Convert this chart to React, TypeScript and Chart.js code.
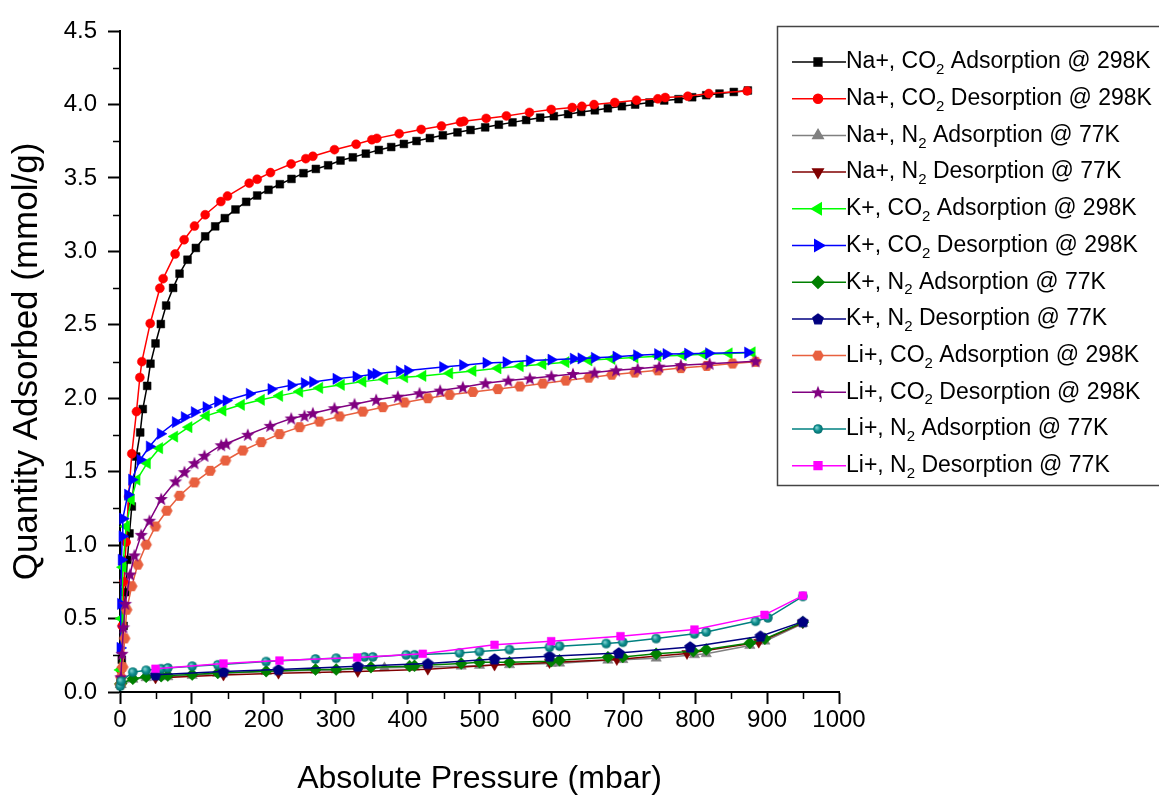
import React, { useEffect, useRef } from 'react';
import { Chart, registerables } from 'chart.js';
import * as helpers from 'chart.js/helpers';

Chart.register(...registerables);

// ---------- data: [pressure (mbar), quantity adsorbed (mmol/g)] ----------
const naCO2Ads = [[0.8,0.07],[2.5,0.22],[5,0.45],[7.5,0.68],[10.2,0.9],[13.2,1.08],[16.4,1.263],[22.5,1.603],[28.1,1.767],[31.7,1.926],[37.8,2.084],[42.4,2.235],[49.4,2.373],[56.8,2.505],[64.2,2.631],[73.9,2.751],[82.8,2.848],[93.9,2.943],[105.5,3.023],[118.5,3.102],[132.4,3.17],[145.8,3.226],[160.6,3.285],[175.5,3.337],[190.8,3.38],[206.5,3.419],[222.3,3.457],[238.5,3.493],[255.2,3.532],[272.4,3.561],[289.5,3.586],[306.7,3.618],[323.8,3.64],[341.9,3.665],[360,3.69],[377.2,3.71],[394.8,3.731],[412.4,3.751],[431,3.771],[449,3.79],[469.4,3.81],[487.5,3.826],[507.9,3.844],[526.9,3.862],[545.9,3.878],[564.9,3.894],[584.4,3.91],[603.4,3.92],[623.3,3.934],[641.4,3.949],[660.4,3.96],[678.5,3.974],[698,3.988],[716.5,3.999],[736.4,4.013],[756.9,4.027],[776.8,4.036],[795.8,4.049],[815.3,4.063],[833.8,4.074],[853.7,4.085],[873.2,4.095]];
const naCO2Des = [[1,0.15],[3,0.45],[5.5,0.75],[8.5,1.02],[12,1.33],[16.4,1.622],[22.9,1.909],[27.6,2.141],[30.4,2.249],[42,2.509],[55.4,2.749],[60,2.814],[76.7,2.982],[89.2,3.079],[103.6,3.172],[118.5,3.249],[140.3,3.339],[149.5,3.376],[179.7,3.464],[190.8,3.491],[209.3,3.536],[238,3.595],[258.4,3.631],[268.2,3.647],[298.3,3.692],[328.4,3.729],[350.3,3.76],[357.2,3.769],[388.3,3.801],[418.9,3.83],[447.1,3.853],[473.6,3.88],[478.2,3.885],[509.3,3.905],[537.4,3.922],[569.5,3.946],[599.7,3.966],[629,3.979],[642.4,3.987],[659.3,3.999],[688.2,4.013],[718.4,4.029],[748,4.038],[758.3,4.047],[789.7,4.056],[818.9,4.074],[872.3,4.092]];
const naN2Ads = [[0.5,0.05],[1.6,0.05],[17.8,0.086],[36.4,0.097],[66.5,0.103],[100.4,0.112],[136,0.126],[203.3,0.139],[271.9,0.148],[300.7,0.15],[367.8,0.165],[409.6,0.169],[474.5,0.176],[500,0.181],[541.7,0.185],[599.7,0.194],[611.3,0.196],[678.6,0.216],[699.3,0.22],[745.7,0.23],[799,0.253],[815.3,0.26],[876,0.316],[896.9,0.346],[949.7,0.466]];
const naN2Des = [[49.4,0.095],[143.9,0.115],[220.4,0.128],[330.7,0.14],[428.1,0.155],[520.9,0.183],[597.4,0.2],[691,0.221],[788.6,0.262],[888.4,0.339],[949.7,0.471]];
const kCO2Ads = [[0.5,0.15],[2,0.5],[4,0.85],[8.6,1.127],[15.6,1.309],[23.4,1.445],[37.8,1.558],[54.9,1.66],[75.8,1.739],[95.7,1.803],[119.9,1.88],[143,1.916],[168.6,1.955],[196.4,1.989],[221.8,2.016],[249.7,2.045],[277.5,2.07],[307.6,2.091],[337.7,2.113],[367.9,2.13],[395.7,2.143],[421.1,2.152],[458.3,2.17],[490.7,2.186],[525.5,2.204],[556.4,2.218],[588,2.232],[620,2.245],[652,2.258],[684,2.268],[716,2.278],[748,2.286],[783,2.293],[812,2.299],[847,2.305],[879,2.312]];
const kCO2Des = [[0.3,0.3],[1,0.6],[2,0.9],[3.1,1.06],[3.9,1.18],[10.8,1.343],[16.4,1.445],[28.1,1.581],[41,1.671],[56.3,1.758],[77.2,1.837],[89.7,1.871],[103.6,1.905],[119.9,1.939],[136,1.975],[147.7,1.984],[180.1,2.03],[210.3,2.062],[238.1,2.089],[256.6,2.102],[268.2,2.111],[300.7,2.132],[328.5,2.147],[349.4,2.161],[356.3,2.166],[388.7,2.184],[400.3,2.188],[449,2.212],[476.8,2.225],[509.3,2.24],[537.1,2.245],[569.5,2.256],[599.7,2.262],[630.7,2.269],[641.4,2.271],[660,2.275],[690.1,2.283],[718.8,2.292],[748,2.3],[759.7,2.301],[789.7,2.303],[818.9,2.306],[873.2,2.311]];
const kN2Ads = [[0.5,0.055],[1.6,0.058],[17.8,0.09],[36.4,0.103],[57.3,0.108],[66.5,0.112],[100.4,0.119],[136,0.13],[203.3,0.142],[271.9,0.153],[300.7,0.153],[349,0.169],[402.7,0.176],[409.6,0.178],[474.5,0.194],[500,0.203],[541.7,0.203],[599.7,0.21],[611.3,0.216],[678.6,0.237],[699.3,0.239],[745.7,0.26],[797.4,0.278],[815.3,0.289],[876,0.334],[896.9,0.362],[949.7,0.475]];
const kN2Des = [[49.4,0.117],[143.9,0.139],[220.4,0.153],[330.7,0.176],[428.1,0.194],[520.9,0.225],[597.4,0.244],[693.7,0.266],[793,0.307],[890.8,0.38],[949.7,0.479]];
const liCO2Ads = [[0.5,0.05],[1.5,0.1],[3.7,0.17],[6.5,0.365],[9.3,0.56],[16.3,0.72],[24.7,0.867],[36.4,1.003],[49.4,1.127],[65.1,1.234],[82.8,1.336],[103.6,1.427],[125.4,1.506],[146.7,1.576],[170.8,1.644],[196.4,1.701],[221.8,1.756],[249.7,1.803],[277.5,1.841],[305.3,1.876],[337.7,1.909],[365.5,1.939],[395.7,1.971],[428.1,2.0],[458.3,2.023],[490.7,2.043],[525.5,2.062],[556,2.08],[588,2.1],[620,2.12],[652,2.14],[684,2.16],[716,2.175],[748,2.19],[780,2.205],[816,2.22],[852,2.236],[884,2.248]];
const liCO2Des = [[1.2,0.1],[2.8,0.26],[4.7,0.44],[7.4,0.6],[14,0.8],[20,0.93],[29.5,1.07],[41,1.166],[57.3,1.314],[77.2,1.434],[89.7,1.497],[103.6,1.558],[117.5,1.608],[140.8,1.68],[147.7,1.69],[177.7,1.751],[208.9,1.812],[238.1,1.862],[256.6,1.88],[268.2,1.898],[298.3,1.932],[326.2,1.959],[356.3,1.989],[386.4,2.011],[416.6,2.034],[445.3,2.052],[476.8,2.075],[508.3,2.102],[540,2.12],[570,2.135],[600,2.15],[630,2.165],[660,2.175],[690,2.19],[720,2.2],[750,2.215],[780,2.225],[820,2.235],[884,2.252]];
const liN2Ads = [[0.3,0.04],[1.6,0.074],[17.8,0.135],[36.4,0.148],[57.3,0.158],[66.5,0.164],[100.4,0.176],[136,0.185],[203.3,0.207],[271.9,0.225],[300.7,0.23],[340,0.239],[351.6,0.239],[398,0.253],[409.6,0.253],[472.2,0.266],[500,0.275],[541.7,0.289],[597.4,0.305],[611.3,0.312],[676.2,0.33],[699.3,0.339],[745.7,0.364],[799,0.396],[815.3,0.409],[883.9,0.482],[901,0.505],[949.7,0.651]];
const liN2Des = [[49.4,0.158],[143.9,0.194],[221.8,0.214],[329.9,0.235],[421.1,0.26],[520.9,0.321],[599.7,0.346],[696.1,0.38],[799,0.425],[896.4,0.525],[949.7,0.656]];

const seriesLabels = [
  'Na+, CO₂ Adsorption @ 298K',
  'Na+, CO₂ Desorption @ 298K',
  'Na+, N₂ Adsorption @ 77K',
  'Na+, N₂ Desorption @ 77K',
  'K+, CO₂ Adsorption @ 298K',
  'K+, CO₂ Desorption @ 298K',
  'K+, N₂ Adsorption @ 77K',
  'K+, N₂ Desorption @ 77K',
  'Li+, CO₂ Adsorption @ 298K',
  'Li+, CO₂ Desorption @ 298K',
  'Li+, N₂ Adsorption @ 77K',
  'Li+, N₂ Desorption @ 77K',
];
const seriesData = [naCO2Ads, naCO2Des, naN2Ads, naN2Des, kCO2Ads, kCO2Des, kN2Ads, kN2Des, liCO2Ads, liCO2Des, liN2Ads, liN2Des];
const seriesColors = ['#000000', '#ff0000', '#808080', '#800000', '#00ff00', '#0000ff', '#008000', '#000080', '#e8603f', '#800080', '#008080', '#ff00ff'];

const xTickStep = 100;
const yTickStep = 0.5;
const xMinorTicks = [50, 150, 250, 350, 450, 550, 650, 750, 850, 950];
const yMinorTicks = [0.25, 0.75, 1.25, 1.75, 2.25, 2.75, 3.25, 3.75, 4.25];

const FONT = "'Liberation Sans', Arial, Helvetica, sans-serif";

function makeCanvas(size: number, draw: (c: CanvasRenderingContext2D, m: number) => void) {
  const cv = document.createElement('canvas');
  cv.width = size;
  cv.height = size;
  const c = cv.getContext('2d')!;
  draw(c, size / 2);
  return cv;
}

function polygon(c: CanvasRenderingContext2D, cx: number, cy: number, n: number, r: number, start: number) {
  c.beginPath();
  for (let i = 0; i < n; i++) {
    const a = start + (i * 2 * Math.PI) / n;
    const px = cx + r * Math.cos(a);
    const py = cy + r * Math.sin(a);
    if (i === 0) c.moveTo(px, py); else c.lineTo(px, py);
  }
  c.closePath();
}

function buildMarkers() {
  const pentagon = makeCanvas(14, (c, m) => {
    polygon(c, m, m + 0.5, 5, 6.2, -Math.PI / 2);
    c.fillStyle = '#000080';
    c.fill();
  });
  const hexagon = makeCanvas(14, (c, m) => {
    polygon(c, m, m, 6, 5.8, 0);
    c.fillStyle = '#e8603f';
    c.fill();
  });
  const star = makeCanvas(16, (c, m) => {
    c.beginPath();
    for (let i = 0; i < 10; i++) {
      const r = i % 2 === 0 ? 7 : 3;
      const a = -Math.PI / 2 + (i * Math.PI) / 5;
      const px = m + r * Math.cos(a);
      const py = m + 0.5 + r * Math.sin(a);
      if (i === 0) c.moveTo(px, py); else c.lineTo(px, py);
    }
    c.closePath();
    c.fillStyle = '#800080';
    c.fill();
  });
  const sphere = makeCanvas(12, (c, m) => {
    const g = c.createRadialGradient(m - 1.5, m - 1.5, 0.5, m, m, 5);
    g.addColorStop(0, '#7fd0d0');
    g.addColorStop(0.5, '#109090');
    g.addColorStop(1, '#006868');
    c.beginPath();
    c.arc(m, m, 4.8, 0, Math.PI * 2);
    c.fillStyle = g;
    c.fill();
  });
  return { pentagon, hexagon, star, sphere };
}

function drawLabel(ctx: CanvasRenderingContext2D, text: string, x: number, y: number) {
  const parts = text.split('₂');
  let cx = x;
  ctx.textBaseline = 'middle';
  ctx.textAlign = 'left';
  parts.forEach((p, i) => {
    ctx.font = `23px ${FONT}`;
    ctx.fillText(p, cx, y);
    cx += ctx.measureText(p).width;
    if (i < parts.length - 1) {
      ctx.font = `15px ${FONT}`;
      ctx.fillText('2', cx, y + 8);
      cx += ctx.measureText('2').width;
    }
  });
}

const boxLegend = {
  id: 'boxLegend',
  afterDraw(chart: any) {
    const ctx: CanvasRenderingContext2D = chart.ctx;
    ctx.save();
    ctx.fillStyle = '#ffffff';
    ctx.fillRect(777, 26, 400, 460);
    ctx.strokeStyle = '#444444';
    ctx.lineWidth = 1.5;
    ctx.strokeRect(777.5, 26.5, 400, 459);
    chart.data.datasets.forEach((ds: any, i: number) => {
      const cy = 62 + i * 36.7;
      ctx.strokeStyle = ds.borderColor;
      ctx.lineWidth = 1.5;
      ctx.beginPath();
      ctx.moveTo(792, cy);
      ctx.lineTo(846, cy);
      ctx.stroke();
      ctx.fillStyle = ds.pointBackgroundColor;
      ctx.strokeStyle = ds.pointBorderColor;
      helpers.drawPoint(ctx, { pointStyle: ds.pointStyle, rotation: ds.pointRotation || 0, radius: ds.pointRadius, borderWidth: 1 } as any, 818, cy);
      ctx.fillStyle = '#000000';
      drawLabel(ctx, ds.label, 846, cy);
    });
    ctx.restore();
  },
};

const minorTickPlugin = {
  id: 'minorTicks',
  afterDraw(chart: any) {
    const ctx: CanvasRenderingContext2D = chart.ctx;
    const xs = chart.scales.x;
    const ys = chart.scales.y;
    ctx.save();
    ctx.strokeStyle = '#000000';
    ctx.lineWidth = 1.5;
    ctx.beginPath();
    xMinorTicks.forEach((v) => {
      const px = Math.round(xs.getPixelForValue(v)) + 0.5;
      ctx.moveTo(px, xs.top);
      ctx.lineTo(px, xs.top + 7);
    });
    yMinorTicks.forEach((v) => {
      const py = Math.round(ys.getPixelForValue(v)) + 0.5;
      ctx.moveTo(ys.right, py);
      ctx.lineTo(ys.right - 7, py);
    });
    ctx.stroke();
    ctx.restore();
  },
};

export default function App() {
  const ref = useRef<HTMLCanvasElement>(null);
  useEffect(() => {
    document.body.style.margin = '0';
    const mk = buildMarkers();
    const styles: any[] = [
      { pointStyle: 'rect', radius: 5.5, rotation: 0 },
      { pointStyle: 'circle', radius: 4.5, rotation: 0 },
      { pointStyle: 'triangle', radius: 6, rotation: 0 },
      { pointStyle: 'triangle', radius: 6, rotation: 180 },
      { pointStyle: 'triangle', radius: 6.5, rotation: 270 },
      { pointStyle: 'triangle', radius: 6.5, rotation: 90 },
      { pointStyle: 'rectRot', radius: 6, rotation: 0 },
      { pointStyle: mk.pentagon, radius: 6, rotation: 0 },
      { pointStyle: mk.hexagon, radius: 6, rotation: 0 },
      { pointStyle: mk.star, radius: 7, rotation: 0 },
      { pointStyle: mk.sphere, radius: 5, rotation: 0 },
      { pointStyle: 'rect', radius: 5.5, rotation: 0 },
    ];
    const datasets = seriesData.map((d, i) => ({
      label: seriesLabels[i],
      data: d.map(([x, y]) => ({ x, y })),
      borderColor: seriesColors[i],
      backgroundColor: seriesColors[i],
      pointBackgroundColor: seriesColors[i],
      pointBorderColor: seriesColors[i],
      pointBorderWidth: 0.5,
      borderWidth: 1.5,
      pointStyle: styles[i].pointStyle,
      pointRadius: styles[i].radius,
      pointRotation: styles[i].rotation,
      tension: 0,
      clip: false as any,
      order: 12 - i,
    }));
    const tickFont = { family: FONT, size: 24 };
    const chart = new Chart(ref.current!, {
      type: 'line',
      data: { datasets },
      options: {
        animation: false,
        responsive: false,
        devicePixelRatio: 1,
        layout: { padding: { top: 31, right: 320, bottom: 0, left: 0 } },
        plugins: { legend: { display: false }, tooltip: { enabled: false } },
        scales: {
          x: {
            type: 'linear',
            min: 0,
            max: 1000,
            ticks: { stepSize: xTickStep, color: '#000', font: tickFont, padding: 2, maxRotation: 0, callback: (v: any) => String(v) },
            grid: { drawOnChartArea: false, drawTicks: true, tickLength: 12, tickColor: '#000', tickWidth: 2 },
            border: { display: true, color: '#000', width: 2 },
            title: { display: true, text: 'Absolute Pressure (mbar)', color: '#000', font: { family: FONT, size: 32 }, padding: { top: 0, bottom: 0 } },
            afterFit: (s: any) => { s.height = 106; },
          },
          y: {
            type: 'linear',
            min: 0,
            max: 4.5,
            ticks: { stepSize: yTickStep, color: '#000', font: tickFont, padding: 11, callback: (v: any) => Number(v).toFixed(1) },
            grid: { drawOnChartArea: false, drawTicks: true, tickLength: 12, tickColor: '#000', tickWidth: 2 },
            border: { display: true, color: '#000', width: 2 },
            title: { display: true, text: 'Quantity Adsorbed (mmol/g)', color: '#000', font: { family: FONT, size: 35 }, padding: { top: 6, bottom: 0 } },
            afterFit: (s: any) => { s.width = 120; },
          },
        },
      } as any,
      plugins: [minorTickPlugin, boxLegend],
    });
    return () => chart.destroy();
  }, []);
  return (
    <div style={{ position: 'absolute', left: 0, top: 0, width: 1159, height: 798 }}>
      <canvas ref={ref} width={1159} height={798} style={{ display: 'block', width: 1159, height: 798 }} />
    </div>
  );
}
